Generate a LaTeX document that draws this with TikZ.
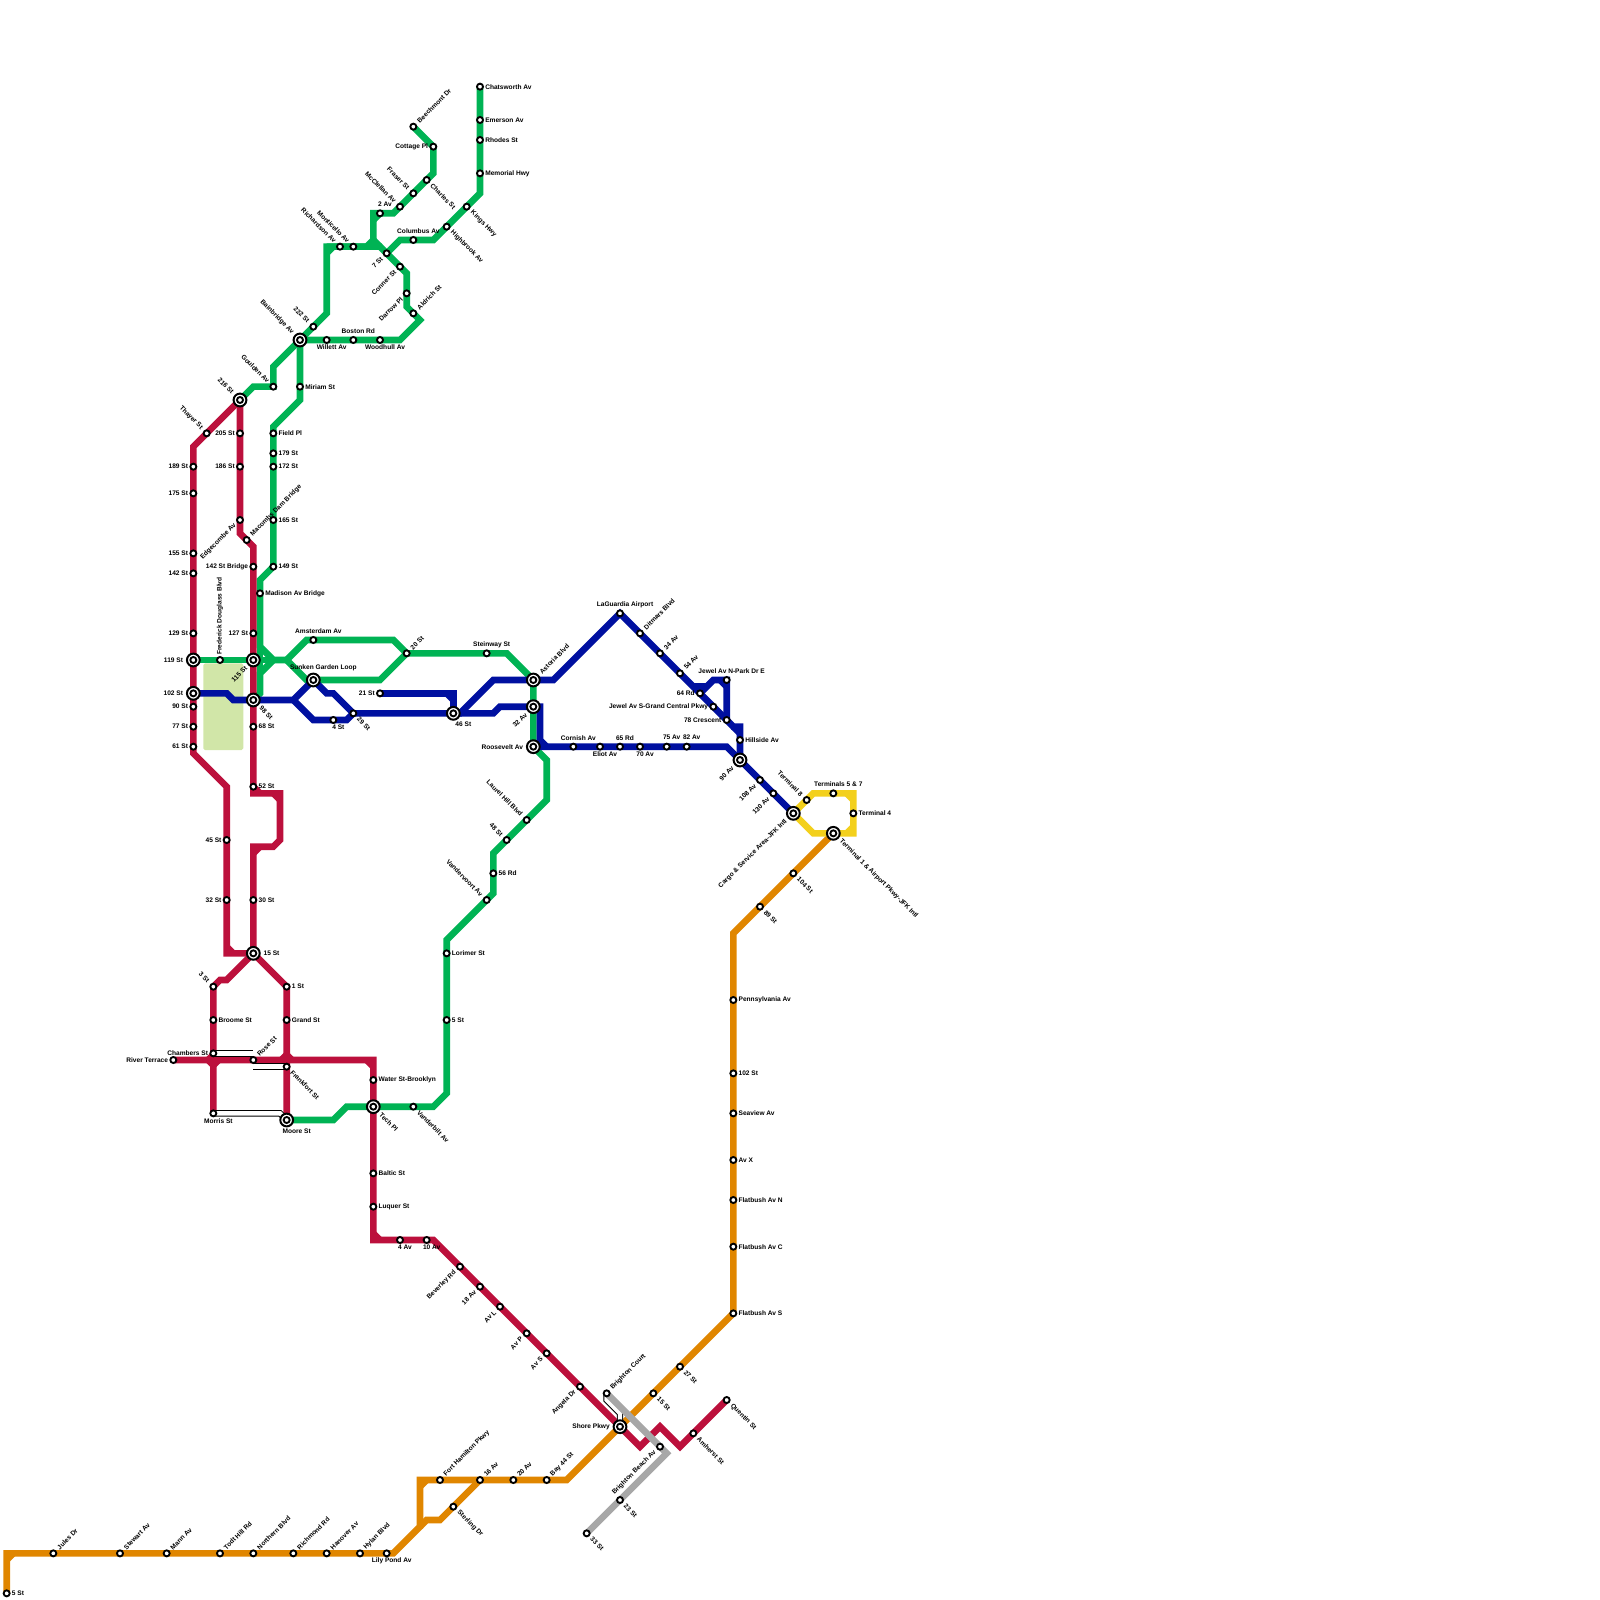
\documentclass[tikz,border=0pt]{standalone}
\usepackage{fontspec}
\setmainfont{Liberation Sans}
\usetikzlibrary{backgrounds}
\definecolor{lgrn}{RGB}{0,179,84}
\definecolor{lred}{RGB}{188,16,60}
\definecolor{lblu}{RGB}{0,16,160}
\definecolor{lorg}{RGB}{224,134,0}
\definecolor{lyel}{RGB}{243,208,28}
\definecolor{lgry}{RGB}{167,167,167}
\definecolor{lpark}{RGB}{209,230,168}

\begin{document}
\begin{tikzpicture}[x=1.6mm, y=-1.6mm,
  stn/.style={circle, draw=black, fill=white, line width=0.45mm, minimum size=1.45mm, inner sep=0pt},
  ring/.style={circle, draw=black, fill=white, line width=0.48mm, minimum size=3.07mm, inner sep=0pt},
  lne/.style={line width=1.6mm, line join=miter},
  grn/.style={lne, draw=lgrn},
  rd/.style={lne, draw=lred},
  blu/.style={lne, draw=lblu},
  org/.style={lne, draw=lorg},
  yel/.style={lne, draw=lyel},
  gry/.style={lne, draw=lgry},
  xfer/.style={draw=black, line width=0.24mm, double=white, double distance=1.05mm},
  park/.style={rectangle, fill=lpark, rounded corners=0.4mm, minimum width=9.6mm, minimum height=20.8mm, inner sep=0pt},
  lbl/.style={font=\fontsize{4.5}{5}\selectfont\bfseries, text=black, inner ysep=0pt},
  tr/.style={lbl, anchor=west, inner xsep=1.2mm},
  tl/.style={lbl, anchor=east, inner xsep=1.2mm},
  ta/.style={lbl, anchor=center, xshift=1.2mm, yshift=2.16mm},
  tb/.style={lbl, anchor=center, xshift=1.2mm, yshift=-1.8mm},
  tafar/.style={lbl, anchor=center, xshift=2.4mm, yshift=3mm},
  tbfar/.style={lbl, anchor=center, xshift=2.4mm, yshift=-2.64mm},
  tne/.style={lbl, anchor=west, inner xsep=1.6mm, rotate=45},
  tse/.style={lbl, anchor=west, inner xsep=1.6mm, rotate=-45},
  tsw/.style={lbl, anchor=east, inner xsep=1.6mm, rotate=45},
  tnw/.style={lbl, anchor=east, inner xsep=1.6mm, rotate=-45},
  tup/.style={lbl, anchor=west, inner xsep=1.2mm, rotate=90},
  farsep/.style={inner xsep=2.4mm}
]
  \useasboundingbox (0,0) rectangle (240,240);

  \coordinate (g1) at (72,29);
  \coordinate (g2) at (65,36);
  \coordinate (g3) at (60,36);
  \coordinate (g4) at (65,26);
  \coordinate (g5) at (59,32);
  \coordinate (g6) at (56,32);
  \coordinate (g7) at (56,36);
  \coordinate (g8) at (55,37);
  \coordinate (g9) at (49,37);
  \coordinate (g10) at (49,47);
  \coordinate (g11) at (57,37);
  \coordinate (g12) at (61,41);
  \coordinate (g13) at (61,46);
  \coordinate (g14) at (63,48);
  \coordinate (g15) at (60,51);
  \coordinate (g16) at (41,55);
  \coordinate (g17) at (38,58);
  \coordinate (g18) at (45,60);
  \coordinate (g19) at (41,64);
  \coordinate (g20) at (39,87);
  \coordinate (g21) at (39,97);
  \coordinate (g22) at (41,99);
  \coordinate (g23) at (43,99);
  \coordinate (g24) at (46,96);
  \coordinate (g25) at (59,96);
  \coordinate (g26) at (57,102);
  \coordinate (g27) at (46,102);
  \coordinate (g28) at (39,101);
  \coordinate (g29) at (39,104);
  \coordinate (g30) at (76,98);
  \coordinate (g31) at (82,114);
  \coordinate (g32) at (82,120);
  \coordinate (g33) at (74,128);
  \coordinate (g34) at (74,134);
  \coordinate (g35) at (67,141);
  \coordinate (g36) at (67,164);
  \coordinate (g37) at (65,166);
  \coordinate (g38) at (52,166);
  \coordinate (g39) at (50,168);

  \coordinate (r1) at (29,67);
  \coordinate (r2) at (29,113);
  \coordinate (r3) at (34,118);
  \coordinate (r4) at (34,143);
  \coordinate (r5) at (36,80);
  \coordinate (r6) at (38,82);
  \coordinate (r7) at (38,119);
  \coordinate (r8) at (42,119);
  \coordinate (r9) at (42,126);
  \coordinate (r10) at (41,127);
  \coordinate (r11) at (38,127);
  \coordinate (r12) at (34,147);
  \coordinate (r13) at (33,147);
  \coordinate (r14) at (56,159);
  \coordinate (r15) at (56,186);
  \coordinate (r16) at (65,186);
  \coordinate (r17) at (96,217);
  \coordinate (r18) at (99,214);
  \coordinate (r19) at (102,217);
  \coordinate (r20) at (32,159);
  \coordinate (r21) at (43,159);

  \coordinate (b1) at (34,104);
  \coordinate (b2) at (35,105);
  \coordinate (b3) at (44,105);
  \coordinate (b4) at (49,104);
  \coordinate (b5) at (50,104);
  \coordinate (b6) at (47,108);
  \coordinate (b7) at (52,108);
  \coordinate (b8) at (68,104);
  \coordinate (b9) at (75,106);
  \coordinate (b10) at (74,107);
  \coordinate (b11) at (74,102);
  \coordinate (b12) at (69,107);
  \coordinate (b13) at (83,102);
  \coordinate (b14) at (104,103);
  \coordinate (b15) at (110,109);
  \coordinate (b16) at (111,109);
  \coordinate (b17) at (107,102);
  \coordinate (b18) at (106,103);
  \coordinate (b19) at (81,106);
  \coordinate (b20) at (81,111);
  \coordinate (b21) at (82,112);
  \coordinate (b22) at (109,112);

  \coordinate (o1) at (1,233);
  \coordinate (o2) at (59,233);
  \coordinate (o3) at (63,229);
  \coordinate (o4) at (63,222);
  \coordinate (o5) at (85,222);
  \coordinate (o6) at (110,140);
  \coordinate (o7) at (64,228);
  \coordinate (o8) at (66,228);

  \coordinate (y1) at (122,119);
  \coordinate (y2) at (128,119);
  \coordinate (y3) at (128,125);
  \coordinate (y4) at (122,125);

  \coordinate (a1) at (100,218);

  \coordinate (x1) at (38,158);
  \coordinate (x2) at (38,160);
  \coordinate (x3) at (42,167);
  \coordinate (x4) at (91,210);
  \coordinate (x5) at (93,212);

  \node[stn] (chatsworth) at (72,13) {}; \node[tr] (chatsworth-t) at (chatsworth) {Chatsworth Av};
  \node[stn] (emerson) at (72,18) {}; \node[tr] (emerson-t) at (emerson) {Emerson Av};
  \node[stn] (rhodes) at (72,21) {}; \node[tr] (rhodes-t) at (rhodes) {Rhodes St};
  \node[stn] (memorial) at (72,26) {}; \node[tr] (memorial-t) at (memorial) {Memorial Hwy};
  \node[stn] (kings) at (70,31) {}; \node[tse] (kings-t) at (kings) {Kings Hwy};
  \node[stn] (highbrook) at (67,34) {}; \node[tse] (highbrook-t) at (highbrook) {Highbrook Av};
  \node[stn] (columbus) at (62,36) {}; \node[ta] (columbus-t) at (columbus) {Columbus Av};
  \node[stn] (beechmont) at (62,19) {}; \node[tne] (beechmont-t) at (beechmont) {Beechmont Dr};
  \node[stn] (cottage) at (65,22) {}; \node[tl] (cottage-t) at (cottage) {Cottage Pl};
  \node[stn] (charles) at (64,27) {}; \node[tse] (charles-t) at (charles) {Charles St};
  \node[stn] (fraser) at (62,29) {}; \node[tnw] (fraser-t) at (fraser) {Fraser St};
  \node[stn] (mcclellan) at (60,31) {}; \node[tnw] (mcclellan-t) at (mcclellan) {McClellan Av};
  \node[stn] (av2) at (57,32) {}; \node[ta] (av2-t) at (av2) {2 Av};
  \node[stn] (richardson) at (51,37) {}; \node[tnw] (richardson-t) at (richardson) {Richardson Av};
  \node[stn] (monticello) at (53,37) {}; \node[tnw] (monticello-t) at (monticello) {Monticello Av};
  \node[stn] (seven) at (58,38) {}; \node[tsw] (seven-t) at (seven) {7 St};
  \node[stn] (conner) at (60,40) {}; \node[tsw] (conner-t) at (conner) {Conner St};
  \node[stn] (darrow) at (61,44) {}; \node[tsw] (darrow-t) at (darrow) {Darrow Pl};
  \node[stn] (aldrich) at (62,47) {}; \node[tne] (aldrich-t) at (aldrich) {Aldrich St};
  \node[stn] (boston) at (53,51) {}; \node[ta] (boston-t) at (boston) {Boston Rd};
  \node[stn] (willett) at (49,51) {}; \node[tb] (willett-t) at (willett) {Willett Av};
  \node[stn] (woodhull) at (57,51) {}; \node[tb] (woodhull-t) at (woodhull) {Woodhull Av};
  \node[stn] (st222) at (47,49) {}; \node[tnw] (st222-t) at (st222) {222 St};
  \node[ring] (bainbridge-o) at (45,51) {}; \node[stn] (bainbridge) at (bainbridge-o) {}; \node[tnw, farsep] (bainbridge-t) at (bainbridge) {Bainbridge Av};
  \node[stn] (goulden) at (41,58) {}; \node[tnw] (goulden-t) at (goulden) {Goulden Av};
  \node[stn] (miriam) at (45,58) {}; \node[tr] (miriam-t) at (miriam) {Miriam St};
  \node[ring] (st216-o) at (36,60) {}; \node[stn] (st216) at (st216-o) {}; \node[tnw, farsep] (st216-t) at (st216) {216 St};
  \node[stn] (thayer) at (31,65) {}; \node[tnw] (thayer-t) at (thayer) {Thayer St};
  \node[stn] (st205) at (36,65) {}; \node[tl] (st205-t) at (st205) {205 St};
  \node[stn] (st186) at (36,70) {}; \node[tl] (st186-t) at (st186) {186 St};
  \node[stn] (edgecombe) at (36,78) {}; \node[tsw] (edgecombe-t) at (edgecombe) {Edgecombe Av};
  \node[stn] (macombs) at (37,81) {}; \node[tne] (macombs-t) at (macombs) {Macombs Dam Bridge};
  \node[stn] (bridge142) at (38,85) {}; \node[tl] (bridge142-t) at (bridge142) {142 St Bridge};
  \node[stn] (st127) at (38,95) {}; \node[tl] (st127-t) at (st127) {127 St};
  \node[ring] (st115-o) at (38,99) {}; \node[stn] (st115) at (st115-o) {}; \node[tsw, farsep] (st115-t) at (st115) {115 St};
  \node[ring] (st98-o) at (38,105) {}; \node[stn] (st98) at (st98-o) {}; \node[tse, farsep] (st98-t) at (st98) {98 St};
  \node[stn] (st68) at (38,109) {}; \node[tr] (st68-t) at (st68) {68 St};
  \node[stn] (st52) at (38,118) {}; \node[tr] (st52-t) at (st52) {52 St};
  \node[stn] (st189) at (29,70) {}; \node[tl] (st189-t) at (st189) {189 St};
  \node[stn] (st175) at (29,74) {}; \node[tl] (st175-t) at (st175) {175 St};
  \node[stn] (st155) at (29,83) {}; \node[tl] (st155-t) at (st155) {155 St};
  \node[stn] (st142) at (29,86) {}; \node[tl] (st142-t) at (st142) {142 St};
  \node[stn] (st129) at (29,95) {}; \node[tl] (st129-t) at (st129) {129 St};
  \node[ring] (st119-o) at (29,99) {}; \node[stn] (st119) at (st119-o) {}; \node[tl, farsep] (st119-t) at (st119) {119 St};
  \node[ring] (st102-o) at (29,104) {}; \node[stn] (st102) at (st102-o) {}; \node[tl, farsep] (st102-t) at (st102) {102 St};
  \node[stn] (st90) at (29,106) {}; \node[tl] (st90-t) at (st90) {90 St};
  \node[stn] (st77) at (29,109) {}; \node[tl] (st77-t) at (st77) {77 St};
  \node[stn] (st61) at (29,112) {}; \node[tl] (st61-t) at (st61) {61 St};
  \node[stn] (douglass) at (33,99) {}; \node[tup] (douglass-t) at (douglass) {Frederick Douglass Blvd};
  \node[stn] (field) at (41,65) {}; \node[tr] (field-t) at (field) {Field Pl};
  \node[stn] (st179) at (41,68) {}; \node[tr] (st179-t) at (st179) {179 St};
  \node[stn] (st172) at (41,70) {}; \node[tr] (st172-t) at (st172) {172 St};
  \node[stn] (st165) at (41,78) {}; \node[tr] (st165-t) at (st165) {165 St};
  \node[stn] (st149) at (41,85) {}; \node[tr] (st149-t) at (st149) {149 St};
  \node[stn] (madison) at (39,89) {}; \node[tr] (madison-t) at (madison) {Madison Av Bridge};
  \node[stn] (amsterdam) at (47,96) {}; \node[ta] (amsterdam-t) at (amsterdam) {Amsterdam Av};
  \node[stn] (st20) at (61,98) {}; \node[tne] (st20-t) at (st20) {20 St};
  \node[stn] (steinway) at (73,98) {}; \node[ta] (steinway-t) at (steinway) {Steinway St};
  \node[ring] (sunken-o) at (47,102) {}; \node[stn] (sunken) at (sunken-o) {}; \node[tafar] (sunken-t) at (sunken) {Sunken Garden Loop};
  \node[stn] (st21) at (57,104) {}; \node[tl] (st21-t) at (st21) {21 St};
  \node[stn] (st29) at (53,107) {}; \node[tse] (st29-t) at (st29) {29 St};
  \node[stn] (st4) at (50,108) {}; \node[tb] (st4-t) at (st4) {4 St};
  \node[ring] (st46-o) at (68,107) {}; \node[stn] (st46) at (st46-o) {}; \node[tbfar] (st46-t) at (st46) {46 St};
  \node[ring] (astoria-o) at (80,102) {}; \node[stn] (astoria) at (astoria-o) {}; \node[tne, farsep] (astoria-t) at (astoria) {Astoria Blvd};
  \node[ring] (av32-o) at (80,106) {}; \node[stn] (av32) at (av32-o) {}; \node[tsw, farsep] (av32-t) at (av32) {32 Av};
  \node[ring] (roosevelt-o) at (80,112) {}; \node[stn] (roosevelt) at (roosevelt-o) {}; \node[tl, farsep] (roosevelt-t) at (roosevelt) {Roosevelt Av};
  \node[stn] (cornish) at (86,112) {}; \node[ta] (cornish-t) at (cornish) {Cornish Av};
  \node[stn] (eliot) at (90,112) {}; \node[tb] (eliot-t) at (eliot) {Eliot Av};
  \node[stn] (rd65) at (93,112) {}; \node[ta] (rd65-t) at (rd65) {65 Rd};
  \node[stn] (av70) at (96,112) {}; \node[tb] (av70-t) at (av70) {70 Av};
  \node[stn] (av75) at (100,112) {}; \node[ta] (av75-t) at (av75) {75 Av};
  \node[stn] (av82) at (103,112) {}; \node[ta] (av82-t) at (av82) {82 Av};
  \node[stn] (laguardia) at (93,92) {}; \node[ta] (laguardia-t) at (laguardia) {LaGuardia Airport};
  \node[stn] (ditmars) at (96,95) {}; \node[tne] (ditmars-t) at (ditmars) {Ditmars Blvd};
  \node[stn] (av34) at (99,98) {}; \node[tne] (av34-t) at (av34) {34 Av};
  \node[stn] (av54) at (102,101) {}; \node[tne] (av54-t) at (av54) {54 Av};
  \node[stn] (rd64) at (105,104) {}; \node[tl] (rd64-t) at (rd64) {64 Rd};
  \node[stn] (jewels) at (107,106) {}; \node[tl] (jewels-t) at (jewels) {Jewel Av S-Grand Central Pkwy};
  \node[stn] (crescent) at (109,108) {}; \node[tl] (crescent-t) at (crescent) {78 Crescent};
  \node[stn] (jeweln) at (109,102) {}; \node[ta] (jeweln-t) at (jeweln) {Jewel Av N-Park Dr E};
  \node[stn] (hillside) at (111,111) {}; \node[tr] (hillside-t) at (hillside) {Hillside Av};
  \node[ring] (av90-o) at (111,114) {}; \node[stn] (av90) at (av90-o) {}; \node[tsw, farsep] (av90-t) at (av90) {90 Av};
  \node[stn] (av108) at (114,117) {}; \node[tsw] (av108-t) at (av108) {108 Av};
  \node[stn] (av130) at (116,119) {}; \node[tsw] (av130-t) at (av130) {130 Av};
  \node[ring] (cargo-o) at (119,122) {}; \node[stn] (cargo) at (cargo-o) {}; \node[tsw, farsep] (cargo-t) at (cargo) {Cargo \& Service Area-JFK Intl};
  \node[stn] (term8) at (121,120) {}; \node[tnw] (term8-t) at (term8) {Terminal 8};
  \node[stn] (term57) at (125,119) {}; \node[ta] (term57-t) at (term57) {Terminals 5 \& 7};
  \node[stn] (term4) at (128,122) {}; \node[tr] (term4-t) at (term4) {Terminal 4};
  \node[ring] (term1-o) at (125,125) {}; \node[stn] (term1) at (term1-o) {}; \node[tse, farsep] (term1-t) at (term1) {Terminal 1 \& Airport Pkwy-JFK Intl};
  \node[stn] (st104) at (119,131) {}; \node[tse] (st104-t) at (st104) {104 St};
  \node[stn] (st89) at (114,136) {}; \node[tse] (st89-t) at (st89) {89 St};
  \node[stn] (penn) at (110,150) {}; \node[tr] (penn-t) at (penn) {Pennsylvania Av};
  \node[stn] (o102) at (110,161) {}; \node[tr] (o102-t) at (o102) {102 St};
  \node[stn] (seaview) at (110,167) {}; \node[tr] (seaview-t) at (seaview) {Seaview Av};
  \node[stn] (avx) at (110,174) {}; \node[tr] (avx-t) at (avx) {Av X};
  \node[stn] (flatn) at (110,180) {}; \node[tr] (flatn-t) at (flatn) {Flatbush Av N};
  \node[stn] (flatc) at (110,187) {}; \node[tr] (flatc-t) at (flatc) {Flatbush Av C};
  \node[stn] (flats) at (110,197) {}; \node[tr] (flats-t) at (flats) {Flatbush Av S};
  \node[stn] (st27) at (102,205) {}; \node[tse] (st27-t) at (st27) {27 St};
  \node[stn] (o15) at (98,209) {}; \node[tse] (o15-t) at (o15) {15 St};
  \node[stn] (court) at (91,209) {}; \node[tne] (court-t) at (court) {Brighton Court};
  \node[ring] (shore-o) at (93,214) {}; \node[stn] (shore) at (shore-o) {}; \node[tl, farsep] (shore-t) at (shore) {Shore Pkwy};
  \node[stn] (beach) at (99,217) {}; \node[tsw] (beach-t) at (beach) {Brighton Beach Av};
  \node[stn] (st23) at (93,225) {}; \node[tse] (st23-t) at (st23) {23 St};
  \node[stn] (a33) at (88,230) {}; \node[tse] (a33-t) at (a33) {33 St};
  \node[stn] (amherst) at (104,215) {}; \node[tse] (amherst-t) at (amherst) {Amherst St};
  \node[stn] (quentin) at (109,210) {}; \node[tse] (quentin-t) at (quentin) {Quentin St};
  \node[stn] (angela) at (87,208) {}; \node[tsw] (angela-t) at (angela) {Angela Dr};
  \node[stn] (avs) at (82,203) {}; \node[tsw] (avs-t) at (avs) {Av S};
  \node[stn] (avp) at (79,200) {}; \node[tsw] (avp-t) at (avp) {Av P};
  \node[stn] (avl) at (75,196) {}; \node[tsw] (avl-t) at (avl) {Av L};
  \node[stn] (av18) at (72,193) {}; \node[tsw] (av18-t) at (av18) {18 Av};
  \node[stn] (beverley) at (69,190) {}; \node[tsw] (beverley-t) at (beverley) {Beverley Rd};
  \node[stn] (av4) at (60,186) {}; \node[tb] (av4-t) at (av4) {4 Av};
  \node[stn] (av10) at (64,186) {}; \node[tb] (av10-t) at (av10) {10 Av};
  \node[stn] (luquer) at (56,181) {}; \node[tr] (luquer-t) at (luquer) {Luquer St};
  \node[stn] (baltic) at (56,176) {}; \node[tr] (baltic-t) at (baltic) {Baltic St};
  \node[stn] (water) at (56,162) {}; \node[tr] (water-t) at (water) {Water St-Brooklyn};
  \node[ring] (tech-o) at (56,166) {}; \node[stn] (tech) at (tech-o) {}; \node[tse, farsep] (tech-t) at (tech) {Tech Pl};
  \node[stn] (vanderbilt) at (62,166) {}; \node[tse] (vanderbilt-t) at (vanderbilt) {Vanderbilt Av};
  \node[stn] (lorimer) at (67,143) {}; \node[tr] (lorimer-t) at (lorimer) {Lorimer St};
  \node[stn] (g5st) at (67,153) {}; \node[tr] (g5st-t) at (g5st) {5 St};
  \node[stn] (vandervoort) at (73,135) {}; \node[tnw] (vandervoort-t) at (vandervoort) {Vandervoort Av};
  \node[stn] (rd56) at (74,131) {}; \node[tr] (rd56-t) at (rd56) {56 Rd};
  \node[stn] (st48) at (76,126) {}; \node[tnw] (st48-t) at (st48) {48 St};
  \node[stn] (laurel) at (79,123) {}; \node[tnw] (laurel-t) at (laurel) {Laurel Hill Blvd};
  \node[stn] (st45) at (34,126) {}; \node[tl] (st45-t) at (st45) {45 St};
  \node[stn] (r32) at (34,135) {}; \node[tl] (r32-t) at (r32) {32 St};
  \node[stn] (st30) at (38,135) {}; \node[tr] (st30-t) at (st30) {30 St};
  \node[ring] (r15-o) at (38,143) {}; \node[stn] (r15st) at (r15-o) {}; \node[tr, farsep] (r15st-t) at (r15st) {15 St};
  \node[stn] (third) at (32,148) {}; \node[tnw] (third-t) at (third) {3 St};
  \node[stn] (first) at (43,148) {}; \node[tr] (first-t) at (first) {1 St};
  \node[stn] (grand) at (43,153) {}; \node[tr] (grand-t) at (grand) {Grand St};
  \node[stn] (broome) at (32,153) {}; \node[tr] (broome-t) at (broome) {Broome St};
  \node[stn] (chambers) at (32,158) {}; \node[tl] (chambers-t) at (chambers) {Chambers St};
  \node[stn] (river) at (26,159) {}; \node[tl] (river-t) at (river) {River Terrace};
  \node[stn] (rose) at (38,159) {}; \node[tne] (rose-t) at (rose) {Rose St};
  \node[stn] (frankfort) at (43,160) {}; \node[tse] (frankfort-t) at (frankfort) {Frankfort St};
  \node[stn] (morris) at (32,167) {}; \node[tb] (morris-t) at (morris) {Morris St};
  \node[ring] (moore-o) at (43,168) {}; \node[stn] (moore) at (moore-o) {}; \node[tbfar] (moore-t) at (moore) {Moore St};
  \node[stn] (fort) at (66,222) {}; \node[tne] (fort-t) at (fort) {Fort Hamilton Pkwy};
  \node[stn] (av16) at (72,222) {}; \node[tne] (av16-t) at (av16) {16 Av};
  \node[stn] (av20) at (77,222) {}; \node[tne] (av20-t) at (av20) {20 Av};
  \node[stn] (bay44) at (82,222) {}; \node[tne] (bay44-t) at (bay44) {Bay 44 St};
  \node[stn] (sterling) at (68,226) {}; \node[tse] (sterling-t) at (sterling) {Sterling Dr};
  \node[stn] (lily) at (58,233) {}; \node[tb] (lily-t) at (lily) {Lily Pond Av};
  \node[stn] (hylan) at (54,233) {}; \node[tne] (hylan-t) at (hylan) {Hylan Blvd};
  \node[stn] (hanover) at (49,233) {}; \node[tne] (hanover-t) at (hanover) {Hanover Av};
  \node[stn] (richmond) at (44,233) {}; \node[tne] (richmond-t) at (richmond) {Richmond Rd};
  \node[stn] (northern) at (38,233) {}; \node[tne] (northern-t) at (northern) {Northern Blvd};
  \node[stn] (todt) at (33,233) {}; \node[tne] (todt-t) at (todt) {Todt Hill Rd};
  \node[stn] (mann) at (25,233) {}; \node[tne] (mann-t) at (mann) {Mann Av};
  \node[stn] (stewart) at (18,233) {}; \node[tne] (stewart-t) at (stewart) {Stewart Av};
  \node[stn] (jules) at (8,233) {}; \node[tne] (jules-t) at (jules) {Jules Dr};
  \node[stn] (o5st) at (1,239) {}; \node[tr] (o5st-t) at (o5st) {5 St};

  \begin{scope}[on background layer]
    \node[park] (greens) at (33.5,106) {};

    \draw[grn] (chatsworth.center) -- (g1) -- (g2) -- (g3) -- (seven.center);
    \draw[grn] (beechmont.center) -- (cottage.center) -- (g4) -- (g5) -- (g6) -- (g7) -- (g8) -- (g9) -- (g10) -- (bainbridge.center) -- (g16) -- (goulden.center) -- (g17) -- (st216.center);
    \draw[grn] (g7) -- (g11);
    \draw[grn] (g9) -- (g11) -- (seven.center) -- (g12) -- (g13) -- (g14) -- (g15) -- (bainbridge.center);
    \draw[grn] (bainbridge.center) -- (g18) -- (g19) -- (st149.center) -- (g20) -- (g21) -- (g22) -- (g23);
    \draw[grn] (st119.center) -- (g23);
    \draw[grn] (g21) -- (g29);
    \draw[grn] (g22) -- (g28) -- (g29) -- (st98.center);
    \draw[grn] (g23) -- (g24) -- (g25) -- (st20.center) -- (g26) -- (sunken.center) -- (g27) -- (g23);
    \draw[grn] (st20.center) -- (g30) -- (astoria.center) -- (roosevelt.center) -- (g31) -- (g32) -- (g33) -- (g34) -- (g35) -- (g36) -- (g37) -- (tech.center) -- (g38) -- (g39) -- (moore.center);
    \draw[grn] (g9) ++(0,1) -- ++(1,-1);
    \draw[grn] (g6) ++(0,1) -- ++(1,-1);

    \draw[org] (o5st.center) -- (o1) -- (o2) -- (o3) -- (o4) -- (o5) -- (shore.center) -- (flats.center) -- (o6) -- (term1.center);
    \draw[org] (o3) -- (o7) -- (o8) -- (av16.center);
    \draw[org] (o1) ++(0,1) -- ++(1,-1);
    \draw[org] (o4) ++(0,1) -- ++(1,-1);

    \draw[rd] (st216.center) -- (thayer.center) -- (r1) -- (r2) -- (r3) -- (r4) -- (r15st.center);
    \draw[rd] (st216.center) -- (r5) -- (macombs.center) -- (r6) -- (r7) -- (r8) -- (r9) -- (r10) -- (r11) -- (r15st.center);
    \draw[rd] (r15st.center) -- (r12) -- (r13) -- (third.center) -- (morris.center);
    \draw[rd] (r15st.center) -- (first.center) -- (moore.center);
    \draw[rd] (river.center) -- (r14) -- (r15) -- (r16) -- (shore.center) -- (r17) -- (r18) -- (r19) -- (quentin.center);
    \draw[rd] (r7) ++(0,-1) -- ++(1,1);
    \draw[rd] (r8) ++(-1,0) -- ++(1,1);
    \draw[rd] (r11) ++(0,1) -- ++(1,-1);
    \draw[rd] (r4) ++(0,-1) -- ++(1,1);
    \draw[rd] (r14) ++(-1,0) -- ++(1,1);
    \draw[rd] (r15) ++(0,-1) -- ++(1,1);
    \fill[lred] (r20) ++(-1.5,0) -- ++(1.5,-1.5) -- ++(1.5,1.5) -- ++(-1.5,1.5) -- cycle;
    \fill[lred] (r21) ++(-1.5,0) -- ++(1.5,-1.5) -- ++(1.5,1.5) -- cycle;

    \draw[yel] (cargo.center) -- (y1) -- (y2) -- (y3) -- (y4) -- (cargo.center);
    \draw[yel] (y2) ++(-1,0) -- ++(1,1);
    \draw[yel] (y3) ++(0,-1) -- ++(-1,1);

    \draw[blu] (st102.center) -- (b1) -- (b2) -- (st98.center) -- (b3) -- (sunken.center) -- (b4) -- (b5) -- (st29.center) -- (st46.center) -- (b10) -- (b9) -- (av32.center);
    \draw[blu] (b3) -- (b6) -- (st4.center) -- (b7) -- (st29.center);
    \draw[blu] (st21.center) -- (b8) -- (st46.center);
    \draw[blu] (st46.center) -- (b12) -- (b11) -- (astoria.center) -- (b13) -- (laguardia.center) -- (crescent.center) -- (b15) -- (b16) -- (av90.center) -- (cargo.center);
    \draw[blu] (rd64.center) -- (b17) -- (jeweln.center) -- (crescent.center);
    \draw[blu] (b14) -- (b18);
    \draw[blu] (av32.center) -- (b19) -- (b20) -- (b21);
    \draw[blu] (roosevelt.center) -- (b22) -- (av90.center);
    \draw[blu] (b8) ++(-1,0) -- ++(1,1);
    \draw[blu] (b16) ++(-1,0) -- ++(1,1);
    \draw[blu] (jeweln) ++(-1,0) -- ++(1,1);

    \draw[xfer] (chambers.center) -- (x1);
    \draw[xfer] (x2) -- (frankfort.center);
    \draw[xfer] (morris.center) -- (x3) -- (moore.center);
    \draw[xfer] (court.center) -- (x4) -- (x5) -- (shore.center);

    \draw[gry] (court.center) -- (a1) -- (a33.center);
  \end{scope}
\end{tikzpicture}
\end{document}
